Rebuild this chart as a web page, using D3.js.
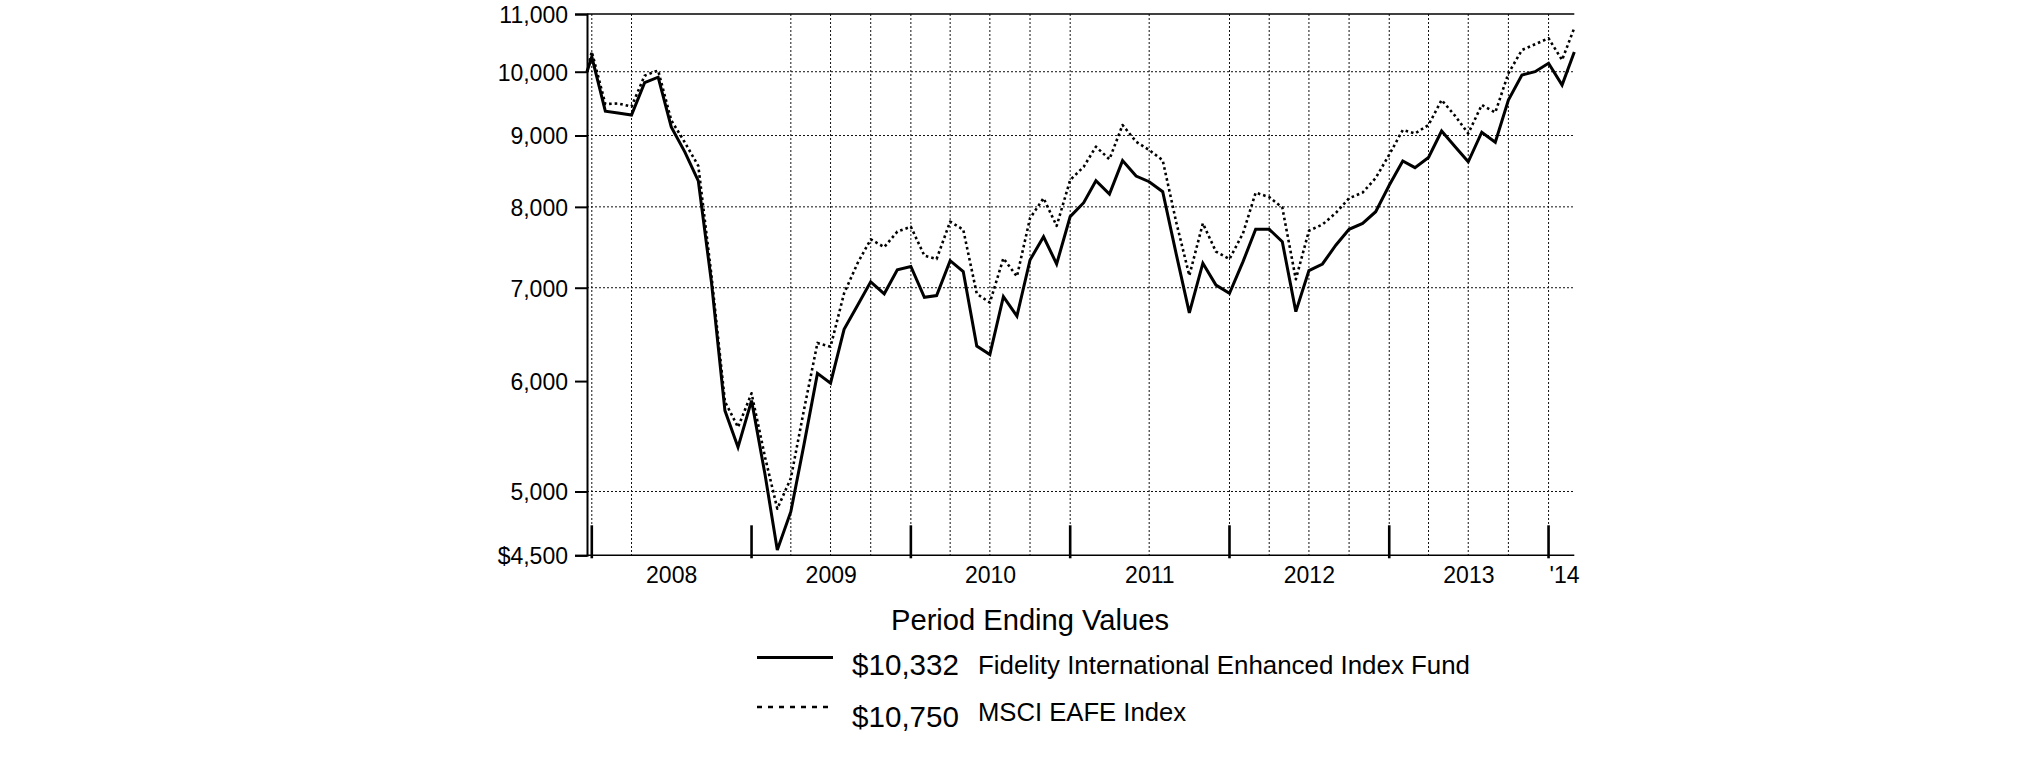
<!DOCTYPE html>
<html><head><meta charset="utf-8">
<script src="https://cdn.jsdelivr.net/npm/d3@7"></script>
<style>
body{margin:0;background:#fff}
svg{display:block}
text{font-family:"Liberation Sans",Arial,Helvetica,sans-serif;fill:#000}
</style>
</head><body>
<svg id="c" width="2025" height="761"></svg>
<script>
// ---------------- data ----------------
const dates = [
 "2007-12-20","2007-12-31",
 "2008-01-31","2008-02-29","2008-03-31","2008-04-30","2008-05-31","2008-06-30","2008-07-31","2008-08-31","2008-09-30","2008-10-31","2008-11-30","2008-12-31",
 "2009-01-31","2009-02-28","2009-03-31","2009-04-30","2009-05-31","2009-06-30","2009-07-31","2009-08-31","2009-09-30","2009-10-31","2009-11-30","2009-12-31",
 "2010-01-31","2010-02-28","2010-03-31","2010-04-30","2010-05-31","2010-06-30","2010-07-31","2010-08-31","2010-09-30","2010-10-31","2010-11-30","2010-12-31",
 "2011-01-31","2011-02-28","2011-03-31","2011-04-30","2011-05-31","2011-06-30","2011-07-31","2011-08-31","2011-09-30","2011-10-31","2011-11-30","2011-12-31",
 "2012-01-31","2012-02-29","2012-03-31","2012-04-30","2012-05-31","2012-06-30","2012-07-31","2012-08-31","2012-09-30","2012-10-31","2012-11-30","2012-12-31",
 "2013-01-31","2013-02-28","2013-03-31","2013-04-30","2013-05-31","2013-06-30","2013-07-31","2013-08-31","2013-09-30","2013-10-31","2013-11-30","2013-12-31",
 "2014-01-31","2014-02-28"
];
const fundValues = [
 10000, 10250,
 9370, 9340, 9310, 9820, 9910, 9130, 8760, 8350, 7070, 5715, 5380, 5810,
 5140, 4540, 4836, 5400, 6077, 5980, 6535, 6800, 7069, 6930, 7210, 7250,
 6890, 6910, 7320, 7190, 6358, 6269, 6897, 6680, 7328, 7615, 7280, 7872,
 8055, 8353, 8172, 8635, 8418, 8339, 8203, 7400, 6715, 7289, 7031, 6936,
 7308, 7709, 7709, 7553, 6729, 7200, 7280, 7512, 7709, 7785, 7936, 8290,
 8630, 8535, 8680, 9067, 8835, 8618, 9049, 8901, 9544, 9946, 10000, 10140,
 9783, 10332
];
const indexValues = [
 10000, 10336,
 9480, 9490, 9440, 9935, 10020, 9230, 8900, 8560, 7150, 5800, 5560, 5880,
 5290, 4860, 5110, 5720, 6390, 6350, 6936, 7290, 7582, 7486, 7680, 7742,
 7380, 7340, 7807, 7705, 6930, 6830, 7348, 7131, 7851, 8115, 7752, 8363,
 8548, 8835, 8654, 9158, 8909, 8787, 8640, 7800, 7142, 7785, 7430, 7340,
 7658, 8190, 8130, 7990, 7098, 7690, 7770, 7922, 8115, 8190, 8390, 8720,
 9083, 9030, 9158, 9544, 9296, 9030, 9466, 9349, 9973, 10365, 10463, 10568,
 10195, 10750
];
const yTickValues = [4500, 5000, 6000, 7000, 8000, 9000, 10000, 11000];
const yTickLabels = ["$4,500", "5,000", "6,000", "7,000", "8,000", "9,000", "10,000", "11,000"];
const yGridValues = [5000, 7000, 8000, 9000, 10000];
const xGridDates = ["2007-12-31","2008-03-31","2009-03-31","2009-06-30","2009-09-30","2009-12-31",
 "2010-03-31","2010-06-30","2010-09-30","2010-12-31","2011-06-30","2011-12-31",
 "2012-03-31","2012-06-30","2012-09-30","2012-12-31","2013-03-31","2013-06-30","2013-09-30","2013-12-31"];
const yearTickDates = ["2007-12-31","2008-12-31","2009-12-31","2010-12-31","2011-12-31","2012-12-31","2013-12-31"];
const yearLabels = ["2008","2009","2010","2011","2012","2013","'14"];
const legendTitle = "Period Ending Values";
const seriesNames = ["Fidelity International Enhanced Index Fund", "MSCI EAFE Index"];
const endingValues = ["$10,332", "$10,750"];

// ---------------- drawing ----------------
const parse = d3.utcParse("%Y-%m-%d");
const svg = d3.select("#c");
const L = 587, R = 1574.3, T = 14, B = 555.3;

const x = d3.scaleUtc().domain([parse(dates[0]), parse(dates[dates.length-1])]).range([L, R]);
const y = d3.scaleLog().domain([4500, 11000]).range([B, T]);

// horizontal grid
svg.append("g").selectAll("line").data(yGridValues).join("line")
  .attr("x1", L).attr("x2", R)
  .attr("y1", d => y(d)).attr("y2", d => y(d))
  .attr("stroke", "#111").attr("stroke-width", 1).attr("stroke-dasharray", "2,2");

// vertical grid
svg.append("g").selectAll("line").data(xGridDates).join("line")
  .attr("x1", d => x(parse(d))).attr("x2", d => x(parse(d)))
  .attr("y1", T).attr("y2", B)
  .attr("stroke", "#111").attr("stroke-width", 1).attr("stroke-dasharray", "2,2");

// top border and bottom axis
svg.append("line").attr("x1", L).attr("x2", R).attr("y1", T).attr("y2", T)
  .attr("stroke", "#000").attr("stroke-width", 1.3);
svg.append("line").attr("x1", L).attr("x2", R).attr("y1", B).attr("y2", B)
  .attr("stroke", "#000").attr("stroke-width", 1.5);

// y axis
const yAxis = d3.axisLeft(y).tickValues(yTickValues)
  .tickFormat((d, i) => yTickLabels[i]).tickSize(12).tickPadding(7);
const gy = svg.append("g").attr("transform", `translate(${L},0)`).call(yAxis);
gy.select(".domain").attr("stroke", "#000").attr("stroke-width", 2);
gy.selectAll(".tick line").attr("stroke", "#000").attr("stroke-width", 2);
gy.selectAll(".tick text").attr("font-size", 23).attr("fill", "#000")
  .attr("font-family", '"Liberation Sans",Arial,sans-serif').attr("dy", "0.36em");

// year ticks
svg.append("g").selectAll("line").data(yearTickDates).join("line")
  .attr("x1", d => x(parse(d))).attr("x2", d => x(parse(d)))
  .attr("y1", B - 30).attr("y2", B + 3)
  .attr("stroke", "#000").attr("stroke-width", 2.6);

// year labels
const yearMids = yearLabels.map((lab, i) => {
  if (i < yearTickDates.length - 1) {
    return {lab, x: (x(parse(yearTickDates[i])) + x(parse(yearTickDates[i+1]))) / 2, anchor: "middle"};
  }
  return {lab, x: x(parse(yearTickDates[i])) + 1, anchor: "start"};
});
svg.append("g").selectAll("text").data(yearMids).join("text")
  .attr("x", d => d.x).attr("y", 583).attr("text-anchor", d => d.anchor)
  .attr("font-size", 23).text(d => d.lab);

// lines
const pts = (vals) => vals.map((v, i) => [parse(dates[i]), v]);
const line = d3.line().x(d => x(d[0])).y(d => y(d[1]));
svg.append("path").datum(pts(indexValues)).attr("d", line)
  .attr("fill", "none").attr("stroke", "#000").attr("stroke-width", 2.6)
  .attr("stroke-dasharray", "2.6,3").attr("stroke-linejoin", "round");
svg.append("path").datum(pts(fundValues)).attr("d", line)
  .attr("fill", "none").attr("stroke", "#000").attr("stroke-width", 3)
  .attr("stroke-linejoin", "miter");

// legend
svg.append("text").attr("x", 891).attr("y", 630).attr("font-size", 29)
  .attr("textLength", 278).attr("lengthAdjust", "spacingAndGlyphs").text(legendTitle);

svg.append("line").attr("x1", 757).attr("x2", 833).attr("y1", 657.5).attr("y2", 657.5)
  .attr("stroke", "#000").attr("stroke-width", 3);
svg.append("text").attr("x", 852).attr("y", 675).attr("font-size", 29.5)
  .attr("textLength", 107).attr("lengthAdjust", "spacingAndGlyphs").text(endingValues[0]);
svg.append("text").attr("x", 978).attr("y", 674).attr("font-size", 25.8)
  .attr("textLength", 492).attr("lengthAdjust", "spacingAndGlyphs").text(seriesNames[0]);

svg.append("line").attr("x1", 757).attr("x2", 833).attr("y1", 707).attr("y2", 707)
  .attr("stroke", "#000").attr("stroke-width", 2.5).attr("stroke-dasharray", "5,6");
svg.append("text").attr("x", 852).attr("y", 727).attr("font-size", 29.5)
  .attr("textLength", 107).attr("lengthAdjust", "spacingAndGlyphs").text(endingValues[1]);
svg.append("text").attr("x", 978).attr("y", 720.5).attr("font-size", 25.8)
  .attr("textLength", 208).attr("lengthAdjust", "spacingAndGlyphs").text(seriesNames[1]);
</script>
</body></html>
